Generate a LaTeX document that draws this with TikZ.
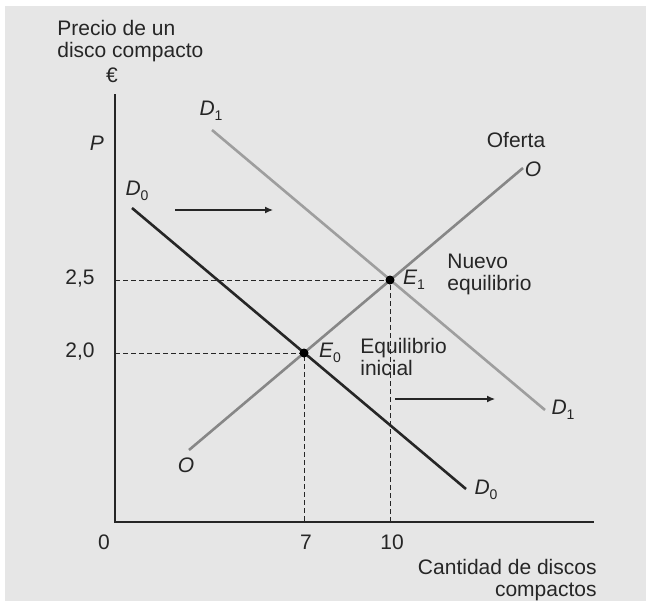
\documentclass[tikz,border=0pt]{standalone}
\usepackage{fontspec}
\setmainfont{Liberation Sans}
\usetikzlibrary{arrows.meta}
\definecolor{fondo}{RGB}{230,230,230}
\definecolor{tinta}{RGB}{38,38,38}
\definecolor{gris}{RGB}{135,135,135}
\definecolor{grisclaro}{RGB}{158,158,158}
\newcommand{\crv}[2]{\textit{#1}\raisebox{-0.45ex}{\fontsize{7}{8}\selectfont#2}}

\begin{document}
\begin{tikzpicture}[x=25pt, y=25pt, inner sep=0pt, text=tinta,
	font=\fontsize{10.5}{11}\selectfont,
	eje/.style={draw=tinta, line width=0.8pt},
	curva/.style={line width=1.3pt},
	guia/.style={draw=tinta, line width=0.5pt, dash pattern=on 2.5pt off 1.5pt},
	desplaza/.style={draw=tinta, line width=0.6pt, -{Latex[length=4pt,width=3.5pt]}},
	punto/.style={circle, fill=black, minimum size=4.5pt}]
	\useasboundingbox (-2.3,-1.58) rectangle (10.62,10.44);
	\fill[fondo] (-2.2,-1.58) rectangle (10.62,10.32);

	% ejes
	\coordinate (o) at (0,0);
	\coordinate (ytop) at (0,8.56);
	\coordinate (xend) at (9.58,0);
	\draw[eje] (ytop) -- (o) -- (xend);

	% equilibrios y guias
	\coordinate (e0x) at (3.78,0);
	\coordinate (e0y) at (0,3.38);
	\coordinate (e1x) at (5.5,0);
	\coordinate (e1y) at (0,4.84);
	\draw[guia] (e0y) -- (3.78,3.38) -- (e0x);
	\draw[guia] (e1y) -- (5.5,4.84) -- (e1x);

	% curvas
	\coordinate (d0a) at (0.34,6.28);
	\coordinate (d0b) at (7.02,0.66);
	\coordinate (d1a) at (1.94,7.84);
	\coordinate (d1b) at (8.6,2.24);
	\coordinate (oa) at (1.48,1.44);
	\coordinate (ob) at (8.16,7.08);
	\draw[curva, draw=grisclaro] (d1a) -- (d1b);
	\draw[curva, draw=gris] (oa) -- (ob);
	\draw[curva, draw=tinta] (d0a) -- (d0b);
	\node[punto] (e0) at (3.78,3.38) {};
	\node[punto] (e1) at (5.5,4.84) {};

	% desplazamiento de la demanda
	\coordinate (fa) at (1.2,6.24);
	\coordinate (fb) at (3.16,6.24);
	\coordinate (ga) at (5.6,2.46);
	\coordinate (gb) at (7.6,2.46);
	\draw[desplaza] (fa) -- (fb);
	\draw[desplaza] (ga) -- (gb);

	% rotulos
	\node (precio) [anchor=west, align=left] at (-1.16,9.61) {Precio de un\\disco compacto};
	\node (euro) at (-0.06,8.94) {€};
	\node (p) at (-0.36,7.58) {\textit{P}};
	\node (v25) [anchor=east] at (-0.4,4.86) {2,5};
	\node (v20) [anchor=east] at (-0.4,3.4) {2,0};
	\node (c0) at (-0.22,-0.4) {0};
	\node (c7) at (3.82,-0.4) {7};
	\node (c10) at (5.54,-0.4) {10};
	\node (cantidad) [anchor=east, align=right] at (9.64,-1.16) {Cantidad de discos\\compactos};

	\node (ld0a) at (0.44,6.62) {\crv{D}{0}};
	\node (ld0b) at (7.42,0.64) {\crv{D}{0}};
	\node (ld1a) at (1.92,8.22) {\crv{D}{1}};
	\node (ld1b) at (8.96,2.24) {\crv{D}{1}};
	\node (loa) at (1.42,1.14) {\textit{O}};
	\node (lob) at (8.36,7.06) {\textit{O}};
	\node (oferta) at (8.02,7.64) {Oferta};
	\node (le0) at (4.3,3.38) {\crv{E}{0}};
	\node (le1) at (5.98,4.84) {\crv{E}{1}};
	\node (nuevo) [anchor=west, align=left] at (6.64,4.96) {Nuevo\\equilibrio};
	\node (inicial) [anchor=west, align=left] at (4.9,3.31) {Equilibrio\\inicial};
\end{tikzpicture}
\end{document}
